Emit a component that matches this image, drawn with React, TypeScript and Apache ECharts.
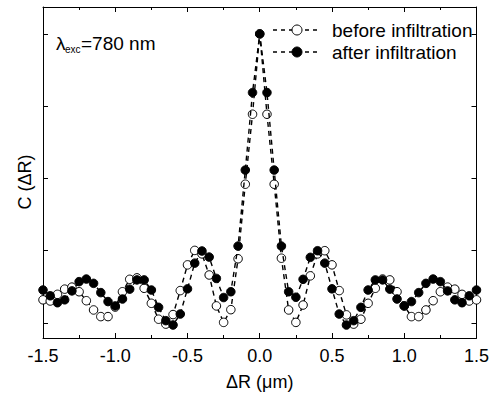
import React, { useEffect, useRef } from "react";
import * as echarts from "echarts";

const xValues = [
  -1.5, -1.45, -1.4, -1.35, -1.3, -1.25, -1.2, -1.15, -1.1, -1.05,
  -1.0, -0.95, -0.9, -0.85, -0.8, -0.75, -0.7, -0.65, -0.6, -0.55,
  -0.5, -0.45, -0.4, -0.35, -0.3, -0.25, -0.2, -0.15, -0.1, -0.05,
  0.0, 0.05, 0.1, 0.15, 0.2, 0.25, 0.3, 0.35, 0.4, 0.45,
  0.5, 0.55, 0.6, 0.65, 0.7, 0.75, 0.8, 0.85, 0.9, 0.95,
  1.0, 1.05, 1.1, 1.15, 1.2, 1.25, 1.3, 1.35, 1.4, 1.45, 1.5,
];

const beforeValues = [
  0.080, 0.076, 0.099, 0.117, 0.124, 0.108, 0.077, 0.045, 0.022, 0.022,
  0.055, 0.108, 0.151, 0.156, 0.120, 0.068, 0.013, -0.004, 0.029, 0.112,
  0.201, 0.251, 0.239, 0.166, 0.059, 0.002, 0.046, 0.222, 0.480, 0.722,
  1.0, 0.722, 0.480, 0.224, 0.045, 0.002, 0.062, 0.163, 0.239, 0.250,
  0.201, 0.112, 0.028, -0.004, 0.013, 0.068, 0.120, 0.152, 0.149, 0.108,
  0.059, 0.022, 0.022, 0.045, 0.077, 0.108, 0.124, 0.117, 0.099, 0.076, 0.080,
];

const afterValues = [
  0.114, 0.094, 0.070, 0.080, 0.111, 0.143, 0.152, 0.137, 0.105, 0.074,
  0.059, 0.083, 0.117, 0.149, 0.149, 0.114, 0.054, 0.008, -0.007, 0.031,
  0.118, 0.207, 0.249, 0.228, 0.154, 0.088, 0.108, 0.266, 0.529, 0.797,
  1.0, 0.797, 0.529, 0.266, 0.108, 0.089, 0.151, 0.227, 0.250, 0.207,
  0.118, 0.031, -0.007, 0.008, 0.054, 0.114, 0.149, 0.149, 0.117, 0.083,
  0.059, 0.074, 0.105, 0.137, 0.152, 0.143, 0.111, 0.080, 0.070, 0.094, 0.114,
];

const yTickValues = [0, 0.25, 0.5, 0.75, 1.0];
const seriesNames = ["before infiltration", "after infiltration"];
const seriesFills = ["#fff", "#000"];

const FONT = "'Liberation Sans', Arial, Helvetica, sans-serif";

export default function App() {
  const ref = useRef<HTMLDivElement>(null);

  useEffect(() => {
    if (!ref.current) return;
    const chart = echarts.init(ref.current, null, { renderer: "svg" });

    const xAxisBase = {
      type: "value",
      min: -1.5,
      max: 1.5,
      interval: 0.5,
      axisLine: { show: true, onZero: false, lineStyle: { color: "#000", width: 1 } },
      axisTick: { show: true, inside: true, length: 5, lineStyle: { color: "#000", width: 1 } },
      minorTick: { show: true, splitNumber: 2, length: 3, lineStyle: { color: "#000", width: 1 } },
      splitLine: { show: false },
    };
    const yAxisBase = {
      type: "value",
      min: -0.052,
      max: 1.093,
      axisLine: { show: true, onZero: false, lineStyle: { color: "#000", width: 1 } },
      axisTick: {
        show: true,
        inside: true,
        length: 5,
        customValues: yTickValues,
        lineStyle: { color: "#000", width: 1 },
      },
      axisLabel: { show: false },
      splitLine: { show: false },
    };

    const pairs = (vals: number[]) => xValues.map((x, i) => [x, vals[i]]);

    const legendRows = [30, 52];
    const legendGraphics: any[] = [];
    seriesNames.forEach((name, i) => {
      const y = legendRows[i];
      legendGraphics.push(
        {
          type: "line",
          shape: { x1: 273, y1: y, x2: 321, y2: y },
          style: { stroke: "#000", lineWidth: 1.3, lineDash: [4, 4] },
          z: 10,
        },
        {
          type: "circle",
          shape: { cx: 297, cy: y, r: 5 },
          style: { fill: seriesFills[i], stroke: "#000", lineWidth: 1 },
          z: 11,
        },
        {
          type: "text",
          x: 332,
          y: y,
          style: { text: name, fontSize: 19, fontFamily: FONT, fill: "#000", verticalAlign: "middle" },
          z: 11,
        }
      );
    });

    chart.setOption({
      animation: false,
      backgroundColor: "#fff",
      grid: { left: 43, right: 14, top: 7, bottom: 58 },
      xAxis: [
        {
          ...xAxisBase,
          position: "bottom",
          axisLabel: {
            show: true,
            margin: 9,
            color: "#000",
            fontSize: 18,
            fontFamily: FONT,
            formatter: (v: number) => v.toFixed(1),
          },
          name: "\u0394R (\u03bcm)",
          nameLocation: "middle",
          nameGap: 35,
          nameTextStyle: { color: "#000", fontSize: 18, fontFamily: FONT },
        },
        {
          ...xAxisBase,
          position: "top",
          axisLabel: { show: false },
        },
      ],
      yAxis: [
        { ...yAxisBase, position: "left" },
        { ...yAxisBase, position: "right" },
      ],
      graphic: [
        ...legendGraphics,
        {
          type: "text",
          x: 56,
          y: 43,
          style: { text: "\u03bb", fontSize: 19, fontFamily: FONT, fill: "#000", verticalAlign: "middle" },
        },
        {
          type: "text",
          x: 65,
          y: 49,
          style: { text: "exc", fontSize: 10, fontFamily: FONT, fill: "#000", verticalAlign: "middle" },
        },
        {
          type: "text",
          x: 81,
          y: 43,
          style: { text: "=780 nm", fontSize: 19, fontFamily: FONT, fill: "#000", verticalAlign: "middle" },
        },
        {
          type: "text",
          x: 25,
          y: 182,
          rotation: Math.PI / 2,
          style: {
            text: "C (\u0394R)",
            fontSize: 18,
            fontFamily: FONT,
            fill: "#000",
            align: "center",
            verticalAlign: "middle",
          },
        },
      ],
      series: [
        {
          name: seriesNames[0],
          type: "line",
          xAxisIndex: 0,
          yAxisIndex: 0,
          data: pairs(beforeValues),
          symbol: "circle",
          symbolSize: 8.5,
          showAllSymbol: true,
          lineStyle: { color: "#000", width: 1.4, type: [5, 4] },
          itemStyle: { color: seriesFills[0], borderColor: "#000", borderWidth: 1 },
          z: 2,
        },
        {
          name: seriesNames[1],
          type: "line",
          xAxisIndex: 0,
          yAxisIndex: 0,
          data: pairs(afterValues),
          symbol: "circle",
          symbolSize: 8.5,
          showAllSymbol: true,
          lineStyle: { color: "#000", width: 1.4, type: [5, 4] },
          itemStyle: { color: seriesFills[1], borderColor: "#000", borderWidth: 1 },
          z: 3,
        },
      ],
    });

    return () => chart.dispose();
  }, []);

  return (
    <div
      ref={ref}
      style={{ position: "fixed", left: 0, top: 0, width: 492, height: 396, background: "#fff" }}
    />
  );
}
